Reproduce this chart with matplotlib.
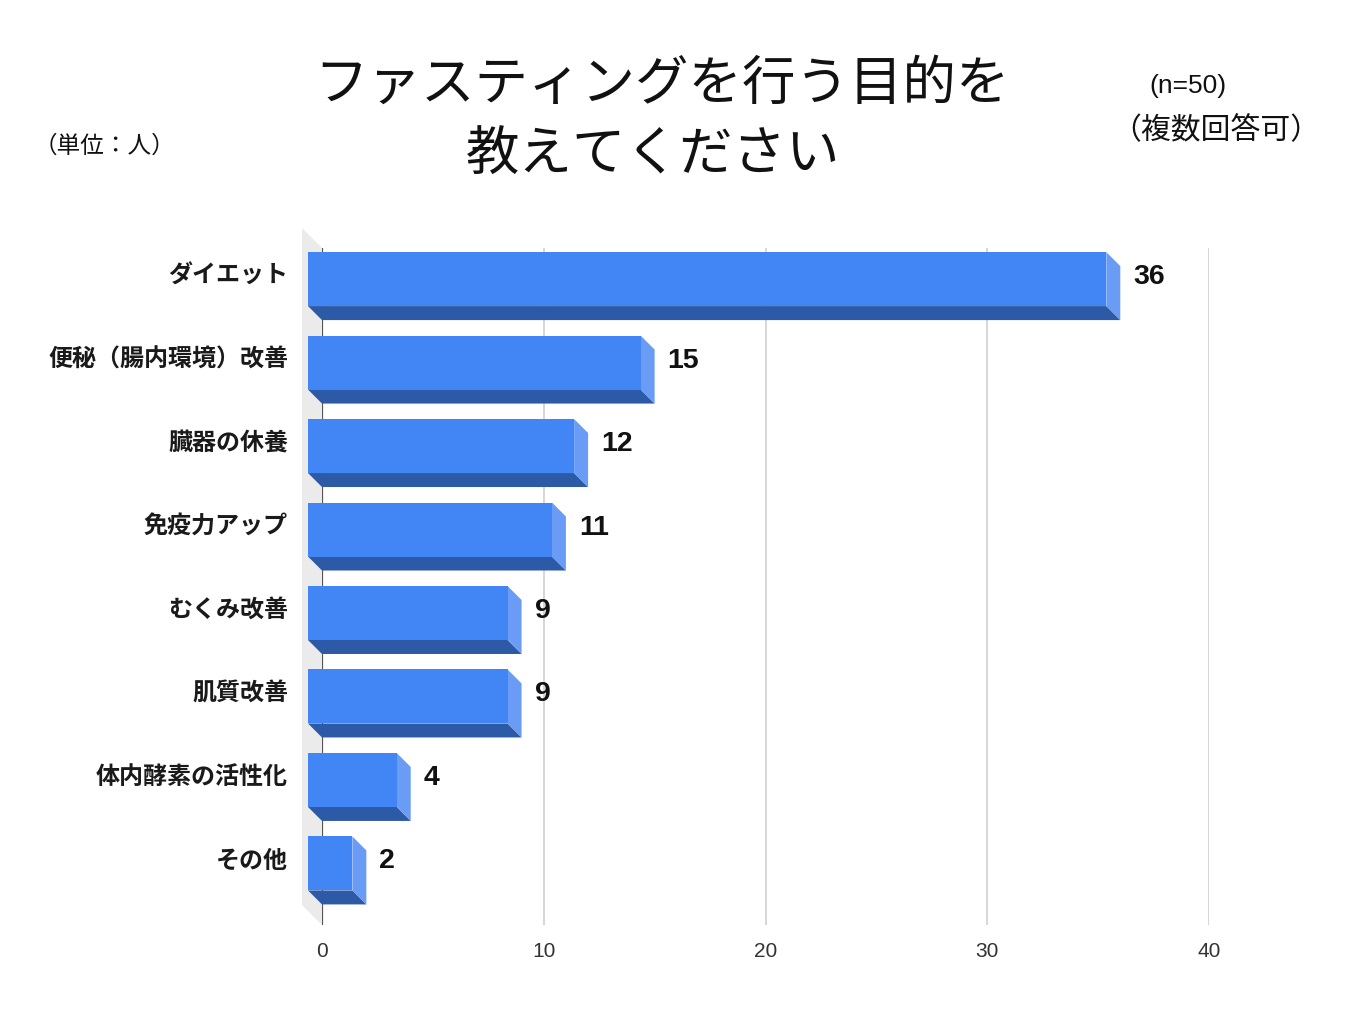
import matplotlib
matplotlib.use("Agg")
import matplotlib.pyplot as plt
from matplotlib.patches import Polygon

plt.rcParams['font.family'] = ['Noto Sans CJK JP', 'DejaVu Sans']

# data
categories = ["ダイエット", "便秘（腸内環境）改善", "臓器の休養", "免疫力アップ",
              "むくみ改善", "肌質改善", "体内酵素の活性化", "その他"]
counts = [36, 15, 12, 11, 9, 9, 4, 2]
x_ticks = [0, 10, 20, 30, 40]

title_line1 = "ファスティングを行う目的を"
title_line2 = "教えてください"
unit_note = "（単位：人）"
n_note = "(n=50)"
multi_note = "（複数回答可）"

FRONT = "#4285f4"
BOTTOM = "#2d5aa6"
SIDE = "#6a9cf6"
WALL = "#ebebeb"
GRID = "#d6d6d6"

W, H = 1365, 1023
fig = plt.figure(figsize=(W / 100, H / 100), dpi=100)
ax_l, ax_r, ax_t, ax_b = 322, 1209, 248, 925
ax = fig.add_axes([ax_l / W, 1 - ax_b / H, (ax_r - ax_l) / W, (ax_b - ax_t) / H])

xmin, xmax = 0, 40
ytop, ybot = -0.54, 7.57
ax.set_xlim(xmin, xmax)
ax.set_ylim(ybot, ytop)

# pixels per data unit
px_x = (ax_r - ax_l) / (xmax - xmin)
px_y = (ax_b - ax_t) / (ybot - ytop)

depth = 14
dx, dy = depth / px_x, depth / px_y
wall = 20
wdx, wdy = wall / px_x, wall / px_y
bh = 0.647

for s in ax.spines.values():
    s.set_visible(False)
ax.set_yticks([])
ax.set_xticks(x_ticks)
ax.set_xticklabels([str(t) for t in x_ticks], family=['Liberation Sans', 'DejaVu Sans'],
                   fontsize=15, color="#333333")
ax.tick_params(axis='x', length=0, pad=12)
for t in x_ticks[1:]:
    ax.axvline(t, color=GRID, lw=1.4, zorder=0)

# left wall
ax.add_patch(Polygon([(-wdx, ytop - wdy), (0, ytop), (0, ybot), (-wdx, ybot - wdy)],
                     closed=True, facecolor=WALL, edgecolor='none', clip_on=False, zorder=0.5))
ax.axvline(0, color="#555555", lw=1.6, zorder=1)

for i, (cat, v) in enumerate(zip(categories, counts)):
    y0, y1 = i - bh / 2, i + bh / 2
    # front face
    ax.barh(i - dy, v, height=bh, left=-dx, color=FRONT, zorder=3, clip_on=False)
    # bottom face
    ax.add_patch(Polygon([(-dx, y1 - dy), (v - dx, y1 - dy), (v, y1), (0, y1)],
                         closed=True, facecolor=BOTTOM, edgecolor='none', zorder=2, clip_on=False))
    # right side face
    ax.add_patch(Polygon([(v - dx, y0 - dy), (v, y0), (v, y1), (v - dx, y1 - dy)],
                         closed=True, facecolor=SIDE, edgecolor='none', zorder=2, clip_on=False))
    ax.text(v + 13 / px_x, i - dy - 2 / px_y, str(v), ha='left', va='center',
            fontsize=20.5, fontweight='bold', family=['Liberation Sans', 'DejaVu Sans'],
            color="#111111")
    ax.text(-34 / px_x, i - dy - 3 / px_y, cat, ha='right', va='center',
            fontsize=17.3, fontweight='bold', color="#1a1a1a", clip_on=False)

fig.text(662 / W, 1 - 84 / H, title_line1, ha='center', va='center', fontsize=38.5, color="#111111")
fig.text(653 / W, 1 - 155 / H, title_line2, ha='center', va='center', fontsize=38.5, color="#111111")
fig.text(104 / W, 1 - 146 / H, unit_note, ha='center', va='center', fontsize=17, color="#111111")
fig.text(1188 / W, 1 - 86 / H, n_note, ha='center', va='center', fontsize=19,
         family=['Liberation Sans', 'DejaVu Sans'], color="#111111")
fig.text(1216 / W, 1 - 131 / H, multi_note, ha='center', va='center', fontsize=21.5, color="#111111")

fig.savefig("out.png", dpi=100, facecolor='white')
